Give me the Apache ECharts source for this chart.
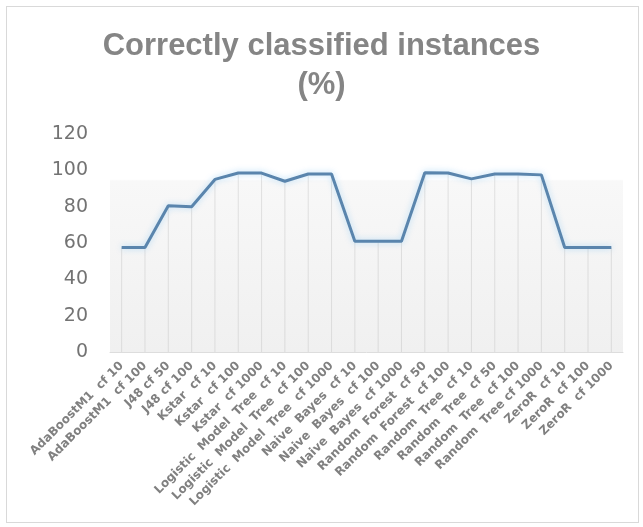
<!DOCTYPE html>
<html>
<head>
<meta charset="utf-8">
<script src="https://cdn.jsdelivr.net/npm/echarts@6/dist/echarts.min.js"></script>
<style>
  html, body { margin: 0; padding: 0; background: #fff; }
  #frame { position: absolute; left: 6px; top: 6px; width: 633px; height: 517px; border: 1px solid #d9d9d9; box-sizing: border-box; }
  #chart { width: 643px; height: 527px; }
</style>
</head>
<body>
<div id="frame"></div>
<div id="chart"></div>
<script>
// Classifier configurations
const categories = [
  'AdaBoostM1  cf 10', 'AdaBoostM1  cf 100', 'J48 cf 50', 'J48 cf 100',
  'Kstar  cf 10', 'Kstar  cf 100', 'Kstar  cf 1000',
  'Logistic  Model  Tree  cf 10', 'Logistic  Model  Tree  cf 100', 'Logistic  Model  Tree  cf 1000',
  'Naive  Bayes  cf 10', 'Naive  Bayes  cf 100', 'Naive  Bayes  cf 1000',
  'Random  Forest  cf 50', 'Random  Forest  cf 100',
  'Random  Tree  cf 10', 'Random  Tree  cf 50', 'Random  Tree  cf 100', 'Random  Tree cf 1000',
  'ZeroR  cf 10', 'ZeroR  cf 100', 'ZeroR  cf 1000'
];

// Correctly classified instances, percent
const correctPct = [
  57.5, 57.5, 80.5, 80, 95, 98.5, 98.5,
  94, 98, 98,
  61, 61, 61,
  98.7, 98.5,
  95.3, 98, 98, 97.5,
  57.5, 57.5, 57.5
];

// Value axis ticks
const yTicks = { min: 0, max: 120, step: 20 };

const chart = echarts.init(document.getElementById('chart'), null, { renderer: 'canvas' });

chart.setOption({
  animation: false,
  backgroundColor: 'transparent',
  title: {
    text: 'Correctly classified instances\n(%)',
    left: 'center',
    top: 22,
    textStyle: {
      fontFamily: 'Liberation Sans',
      fontSize: 31,
      fontWeight: 'bold',
      color: '#858585',
      lineHeight: 39
    }
  },
  grid: {
    left: 110,
    right: 20,
    top: 134,
    bottom: 175,
    show: true,
    borderWidth: 0,
    backgroundColor: {
      type: 'linear', x: 0, y: 0, x2: 0, y2: 1,
      colorStops: [
        { offset: 0, color: 'rgba(255,255,255,0)' },
        { offset: 0.205, color: 'rgba(255,255,255,0)' },
        { offset: 0.215, color: '#f8f8f8' },
        { offset: 1, color: '#f0f0f0' }
      ]
    }
  },
  xAxis: {
    type: 'category',
    data: categories,
    boundaryGap: true,
    axisLine: { show: true, lineStyle: { color: '#dddddd', width: 1 } },
    axisTick: { show: false },
    splitLine: { show: false },
    axisLabel: {
      interval: 0,
      rotate: 45,
      margin: 12,
      fontFamily: 'DejaVu Sans',
      fontSize: 12,
      fontWeight: 'bold',
      color: '#808080'
    }
  },
  yAxis: {
    type: 'value',
    min: yTicks.min,
    max: yTicks.max,
    interval: yTicks.step,
    axisLine: { show: false },
    axisTick: { show: false },
    splitLine: { show: false },
    axisLabel: {
      margin: 22,
      fontFamily: 'DejaVu Sans',
      fontSize: 19,
      color: '#737373'
    }
  },
  series: [
    {
      // faint drop lines under each point
      type: 'bar',
      data: correctPct,
      barWidth: 1,
      itemStyle: { color: 'rgba(200,200,200,0.5)' },
      silent: true,
      z: 1
    },
    {
      type: 'line',
      data: correctPct,
      symbol: 'none',
      lineStyle: {
        color: '#5a85ad',
        width: 3,
        shadowColor: 'rgba(160,210,245,0.8)',
        shadowBlur: 6
      },
      z: 3
    }
  ]
});
</script>
</body>
</html>
